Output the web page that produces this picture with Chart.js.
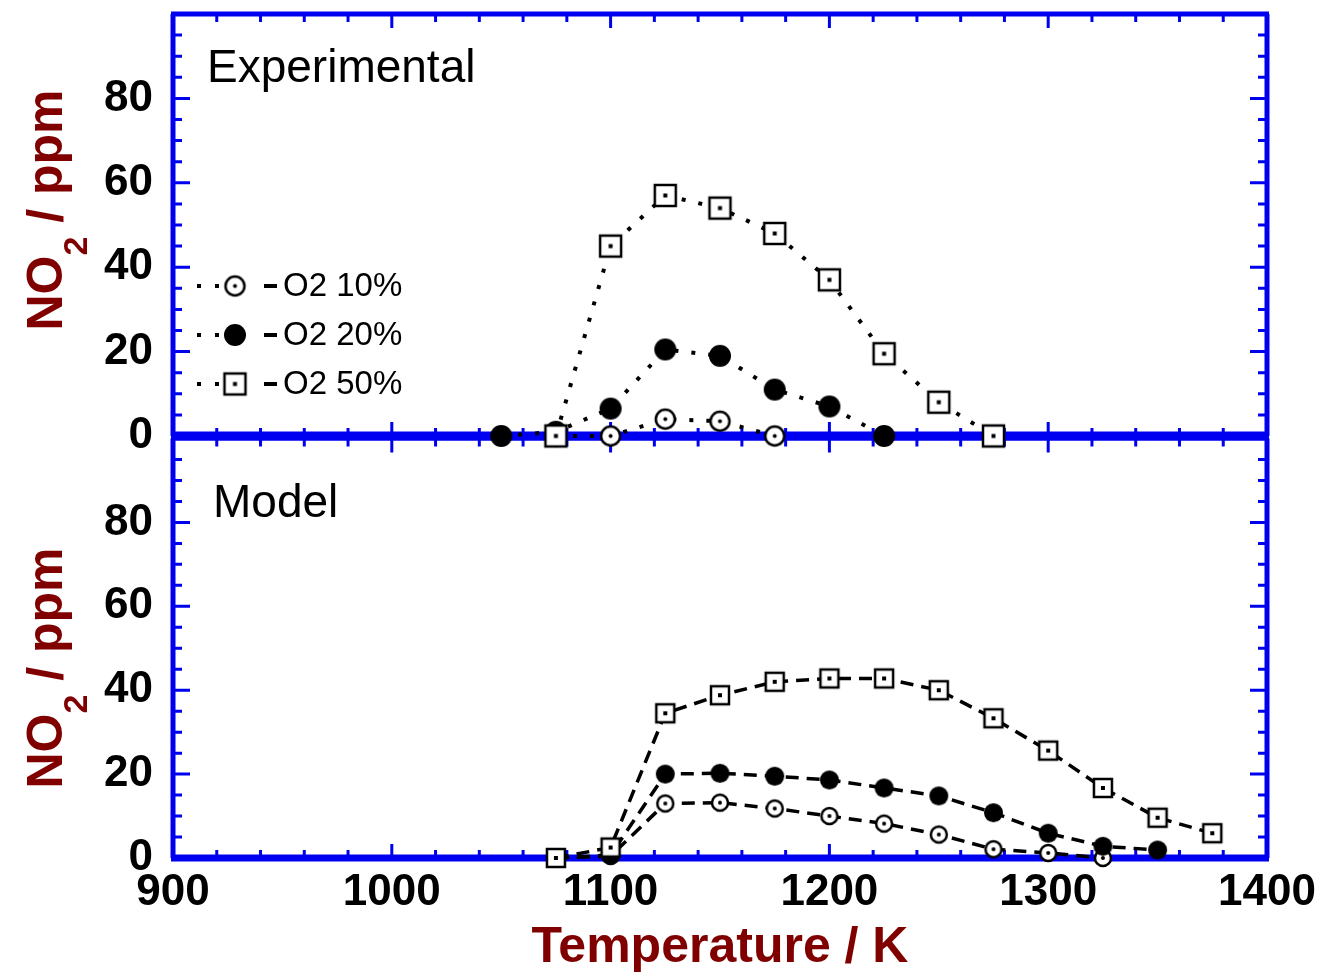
<!DOCTYPE html>
<html>
<head>
<meta charset="utf-8">
<script src="https://cdn.jsdelivr.net/npm/chart.js@4.4.1/dist/chart.umd.min.js"></script>
<style>
  html, body { margin: 0; padding: 0; background: #fff; }
  #wrap { position: relative; width: 1326px; height: 978px; overflow: hidden; }
  canvas { position: absolute; left: 0; }
  #expChart { top: 0; }
  #modelChart { top: 425px; }
</style>
</head>
<body>
<div id="wrap">
  <canvas id="modelChart" width="1326" height="553"></canvas>
  <canvas id="expChart" width="1326" height="450"></canvas>
</div>
<script>
// Experimental NO2 (ppm) vs temperature (K)
var expT10 = [1075, 1100, 1125, 1150, 1175];
var expNO2_10 = [0, 0, 4, 3.5, 0];
var expT20 = [1050, 1075, 1100, 1125, 1150, 1175, 1200, 1225];
var expNO2_20 = [0, 1, 6.5, 20.5, 19, 11, 7, 0];
var expT50 = [1075, 1100, 1125, 1150, 1175, 1200, 1225, 1250, 1275];
var expNO2_50 = [0, 45, 57, 54, 48, 37, 19.5, 8, 0];

// Model NO2 (ppm)
var modelT = [1075, 1100, 1125, 1150, 1175, 1200, 1225, 1250, 1275, 1300, 1325, 1350, 1375];
var modelNO2_10 = [0, 0.5, 13, 13.2, 11.8, 10, 8.2, 5.6, 2.1, 1.2, 0];
var modelNO2_20 = [0, 0.7, 20, 20.2, 19.5, 18.6, 16.7, 14.8, 10.8, 5.9, 2.8, 1.9];
var modelNO2_50 = [0, 2.5, 34.5, 38.8, 42, 42.8, 42.8, 40, 33.3, 25.6, 16.7, 9.6, 5.9];

var seriesNames = ['O2 10%', 'O2 20%', 'O2 50%'];
var yTicks = [0, 20, 40, 60, 80];
var xTicks = [900, 1000, 1100, 1200, 1300, 1400];

var BLUE = '#0000f0';
var DARKRED = '#800000';
var FONT = "'Liberation Sans', Arial, sans-serif";

function pts(xs, ys) {
  return ys.map(function(v, i){ return {x: xs[i], y: v}; });
}

// marker images
function marker(kind, size) {
  var c = document.createElement('canvas');
  c.width = size + 6; c.height = size + 6;
  var g = c.getContext('2d');
  var m = c.width / 2;
  g.lineWidth = 2.5;
  g.strokeStyle = '#000';
  g.fillStyle = '#fff';
  if (kind === 'circleDot') {
    g.beginPath(); g.arc(m, m, size/2, 0, Math.PI*2); g.fill(); g.stroke();
    g.fillStyle = '#000';
    g.beginPath(); g.arc(m, m, 2, 0, Math.PI*2); g.fill();
  } else if (kind === 'disc') {
    g.fillStyle = '#000';
    g.beginPath(); g.arc(m, m, size/2, 0, Math.PI*2); g.fill();
  } else {
    g.fillRect(m - size/2, m - size/2, size, size);
    g.strokeRect(m - size/2, m - size/2, size, size);
    g.fillStyle = '#000';
    g.fillRect(m - 2, m - 2, 4, 4);
  }
  return c;
}

var expMarks = [marker('circleDot', 19), marker('disc', 22), marker('square', 21)];
var modelMarks = [marker('circleDot', 16), marker('disc', 19), marker('square', 18)];

// blue frame with inward major/minor ticks
var frameTicks = {
  id: 'frameTicks',
  beforeDatasetsDraw: function(chart, args, o) {
    var ctx = chart.ctx, a = chart.chartArea;
    var x = chart.scales.x, y = chart.scales.y;
    ctx.save();
    ctx.strokeStyle = BLUE;
    ctx.lineWidth = 3;
    ctx.beginPath();
    for (var t = 900; t <= 1400; t += 20) {
      var px = x.getPixelForValue(t);
      var lx = t % 100 === 0 ? 14 : 8;
      ctx.moveTo(px, a.top); ctx.lineTo(px, a.top + lx);
      ctx.moveTo(px, a.bottom); ctx.lineTo(px, a.bottom - lx);
    }
    for (var v = 0; v <= 100; v += 5) {
      var py = y.getPixelForValue(v);
      var ly = v % 20 === 0 ? 17 : 9;
      ctx.moveTo(a.left, py); ctx.lineTo(a.left + ly, py);
      ctx.moveTo(a.right, py); ctx.lineTo(a.right - ly, py);
    }
    ctx.stroke();
    function edge(x1, y1, x2, y2, w) {
      ctx.lineWidth = w;
      ctx.beginPath(); ctx.moveTo(x1, y1); ctx.lineTo(x2, y2); ctx.stroke();
    }
    edge(a.left - 2, a.top, a.right + 2, a.top, o.top);
    edge(a.left - 2, a.bottom, a.right + 2, a.bottom, o.bottom);
    edge(a.left, a.top, a.left, a.bottom, 5);
    edge(a.right, a.top, a.right, a.bottom, 5);
    ctx.restore();
  }
};

// panel caption, y-axis title with subscript, optional legend
var panelDecor = {
  id: 'panelDecor',
  afterDraw: function(chart, args, o) {
    var ctx = chart.ctx;
    ctx.save();
    ctx.fillStyle = '#000';
    ctx.textBaseline = 'alphabetic';
    ctx.textAlign = 'left';
    ctx.font = '46px ' + FONT;
    ctx.fillText(o.caption, o.capX, o.capY);

    // NO2 / ppm, rotated
    ctx.save();
    ctx.translate(62, o.titleY);
    ctx.rotate(-Math.PI / 2);
    ctx.fillStyle = DARKRED;
    var big = 'bold 50px ' + FONT, sub = 'bold 34px ' + FONT;
    ctx.font = big; var w1 = ctx.measureText('NO').width;
    var w3 = ctx.measureText(' / ppm').width;
    ctx.font = sub; var w2 = ctx.measureText('2').width;
    var x0 = -(w1 + w2 + w3) / 2;
    ctx.font = big; ctx.fillText('NO', x0, 0);
    ctx.font = sub; ctx.fillText('2', x0 + w1, 25);
    ctx.font = big; ctx.fillText(' / ppm', x0 + w1 + w2, 0);
    ctx.restore();

    if (o.legend) {
      ctx.strokeStyle = '#000';
      ctx.lineWidth = 4;
      for (var i = 0; i < seriesNames.length; i++) {
        var ly = 286 + i * 49;
        ctx.setLineDash([4, 14]);
        ctx.beginPath(); ctx.moveTo(197, ly); ctx.lineTo(227, ly); ctx.stroke();
        ctx.setLineDash([]);
        ctx.beginPath(); ctx.moveTo(264, ly); ctx.lineTo(277, ly); ctx.stroke();
        var m = expMarks[i];
        ctx.drawImage(m, 235 - m.width / 2, ly - m.height / 2);
        ctx.fillStyle = '#000';
        ctx.font = '33px ' + FONT;
        ctx.textBaseline = 'middle';
        ctx.fillText(seriesNames[i], 283, ly + 1);
      }
    }
    ctx.restore();
  }
};

function makeSets(groups, marks, dash, width) {
  return groups.map(function(g, i) {
    return {
      label: seriesNames[i],
      data: g,
      borderColor: '#000',
      borderWidth: width,
      borderDash: dash,
      pointStyle: marks[i],
      pointRadius: 10,
      tension: 0,
      clip: false,
      order: 2 - i
    };
  });
}

function yAxis() {
  return {
    min: 0, max: 100,
    ticks: {
      stepSize: 20,
      autoSkip: false,
      color: '#000',
      padding: 20,
      font: {family: FONT, size: 44, weight: 'bold'},
      callback: function(v){ return yTicks.indexOf(v) >= 0 ? v : ''; }
    },
    grid: {display: false, drawTicks: false},
    border: {display: false},
    afterFit: function(s){
      s.width = 173;
      s.paddingTop = 0;
      s.paddingBottom = 0;
    }
  };
}

var expChart = new Chart(document.getElementById('expChart'), {
  type: 'line',
  data: {
    datasets: makeSets([
      pts(expT10, expNO2_10),
      pts(expT20, expNO2_20),
      pts(expT50, expNO2_50)
    ], expMarks, [4, 13], 4)
  },
  options: {
    responsive: false,
    animation: false,
    devicePixelRatio: 1,
    layout: {padding: {top: 10, right: 59, bottom: 5, left: 0}},
    scales: {
      x: {type: 'linear', min: 900, max: 1400, display: false},
      y: yAxis()
    },
    plugins: {
      legend: {display: false},
      tooltip: {enabled: false},
      frameTicks: {top: 5, bottom: 9},
      panelDecor: {caption: 'Experimental', capX: 207, capY: 82, titleY: 210, legend: true}
    }
  },
  plugins: [frameTicks, panelDecor]
});

var modelChart = new Chart(document.getElementById('modelChart'), {
  type: 'line',
  data: {
    datasets: makeSets([
      pts(modelT, modelNO2_10),
      pts(modelT, modelNO2_20),
      pts(modelT, modelNO2_50)
    ], modelMarks, [13, 8], 3.5)
  },
  options: {
    responsive: false,
    animation: false,
    devicePixelRatio: 1,
    layout: {padding: {top: 10, right: 59, bottom: 0, left: 0}},
    scales: {
      x: {
        type: 'linear', min: 900, max: 1400,
        ticks: {
          stepSize: 100,
          color: '#000',
          padding: 8,
          font: {family: FONT, size: 44, weight: 'bold'},
          callback: function(v){ return xTicks.indexOf(v) >= 0 ? v : ''; }
        },
        grid: {display: false, drawTicks: false},
        border: {display: false},
        title: {
          display: true,
          text: 'Temperature / K',
          color: DARKRED,
          padding: 0,
          font: {family: FONT, size: 50, weight: 'bold'}
        },
        afterFit: function(s){
          s.height = 120;
          s.paddingLeft = 0;
          s.paddingRight = 0;
        }
      },
      y: yAxis()
    },
    plugins: {
      legend: {display: false},
      tooltip: {enabled: false},
      frameTicks: {top: 4, bottom: 7},
      panelDecor: {caption: 'Model', capX: 213, capY: 92, titleY: 243, legend: false}
    }
  },
  plugins: [frameTicks, panelDecor]
});
</script>
</body>
</html>
